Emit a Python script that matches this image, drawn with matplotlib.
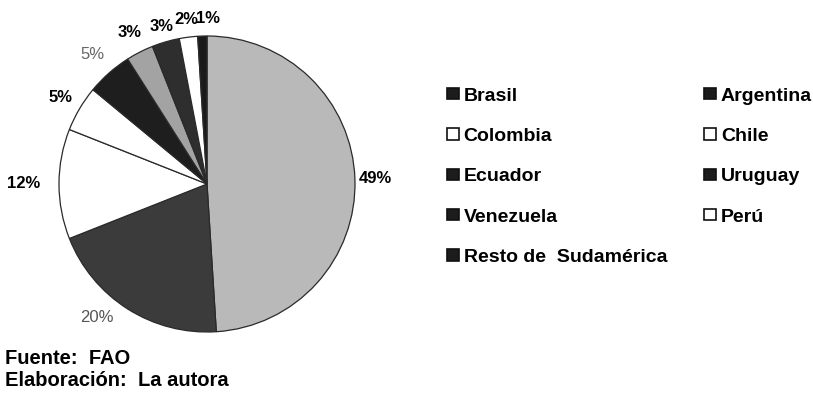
import numpy as np
import matplotlib
matplotlib.use("Agg")
from matplotlib import pyplot as plt
from matplotlib.patches import Patch

plt.rcParams["font.family"] = ["Liberation Sans", "DejaVu Sans"]

paises = ["Brasil", "Argentina", "Colombia", "Chile", "Ecuador",
          "Uruguay", "Venezuela", "Perú", "Resto de  Sudamérica"]
porcentajes = [49, 20, 12, 5, 5, 3, 3, 2, 1]
colores = ["#b9b9b9", "#3b3b3b", "#ffffff", "#ffffff", "#1e1e1e",
           "#a3a3a3", "#2e2e2e", "#ffffff", "#1a1a1a"]
# legend squares in the scan are either solid black or open
colores_leyenda = ["#1c1c1c", "#1c1c1c", "#ffffff", "#ffffff", "#1c1c1c",
                   "#1c1c1c", "#1c1c1c", "#ffffff", "#1c1c1c"]
etiqueta_color = ["k", "#555555", "k", "k", "#666666", "k", "k", "k", "k"]
etiqueta_bold = [True, False, True, True, False, True, True, True, True]
# distance of each percent label from the centre (in radii) and angle nudge (deg)
etiqueta_dist = [1.14, 1.17, 1.24, 1.15, 1.17, 1.15, 1.11, 1.12, 1.12]
etiqueta_giro = [0, 7, 0, 0, 0, 0, 0, 0, 0]

W, H = 813, 400
fig = plt.figure(figsize=(8.13, 4.0), dpi=100)
cx, cy, r = 207, 184, 148
ax = fig.add_axes([(cx - r) / W, (H - cy - r) / H, 2 * r / W, 2 * r / H])

wedges, _ = ax.pie(porcentajes, colors=colores, startangle=90,
                   counterclock=False,
                   wedgeprops=dict(edgecolor="#2a2a2a", linewidth=0.9))
for w, p, c, b, d, g in zip(wedges, porcentajes, etiqueta_color, etiqueta_bold,
                            etiqueta_dist, etiqueta_giro):
    ang = np.deg2rad((w.theta1 + w.theta2) / 2 - g)
    ha = "center"
    if p == 1:
        ha = "left"
    ax.text(d * np.cos(ang) - (0.04 if p == 1 else 0), d * np.sin(ang), f"{p}%",
            color=c, fontsize=12, fontweight="bold" if b else "normal",
            ha=ha, va="center")
ax.set_xlim(-1, 1)
ax.set_ylim(-1, 1)
ax.set_aspect("equal")

# legend: column-first order
orden = [0, 2, 4, 6, 8, 1, 3, 5, 7]
handles = [Patch(facecolor=colores_leyenda[i], edgecolor="#111111", linewidth=1.2)
           for i in orden]
labels = [paises[i] for i in orden]
fig.legend(handles, labels, ncol=2, loc="upper left",
           bbox_to_anchor=(433 / W, 1 - 74 / H), frameon=False,
           prop=dict(size=14, weight="bold"),
           handlelength=0.62, handleheight=0.5, handletextpad=0.25,
           labelspacing=1.2, columnspacing=1.9, borderpad=0.2)

fig.text(5 / W, 1 - 359 / H, "Fuente:  FAO", fontsize=14.5, fontweight="bold",
         va="center", ha="left")
fig.text(5 / W, 1 - 381 / H, "Elaboración:  La autora", fontsize=14.5,
         fontweight="bold", va="center", ha="left")

fig.savefig("out.png", dpi=100, facecolor="white")
